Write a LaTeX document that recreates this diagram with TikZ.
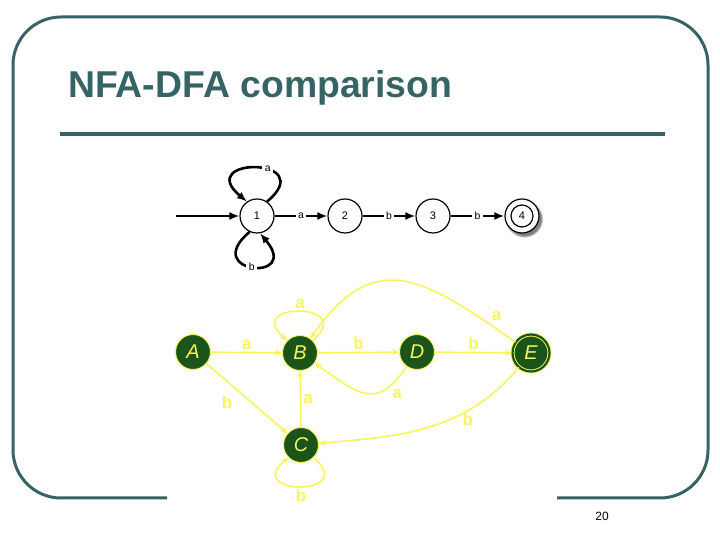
\documentclass[tikz,border=0pt]{standalone}
\usepackage{fontspec}
\setmainfont{Liberation Sans}
\usetikzlibrary{arrows.meta,shadows}
\definecolor{slate}{HTML}{366464}
\definecolor{dfagreen}{HTML}{1A541A}
\definecolor{dfayellow}{HTML}{F8F45C}

\begin{document}
\begin{tikzpicture}[
  x=1bp, y=1bp,
  frame/.style={draw=slate, line width=3bp, rounded corners=48bp},
  nfastate/.style={circle, draw=black, line width=1.2bp, fill=white, minimum size=34bp, inner sep=0pt, font=\fontsize{11}{13}\selectfont},
  nfaarr/.style={-{Latex[length=10bp,width=8bp]}, line width=2.6bp},
  nfalbl/.style={fill=white, inner sep=2.5bp, font=\fontsize{10.5}{12}\selectfont},
  dfastate/.style={circle, draw=dfayellow, line width=1bp, fill=dfagreen, text=dfayellow, minimum size=35bp, inner sep=0pt, font=\fontsize{20}{22}\selectfont\itshape},
  dfaarr/.style={-{Stealth[length=7bp,width=6bp]}, draw=dfayellow, line width=1.6bp},
  dfalbl/.style={text=dfayellow, inner sep=2bp, font=\fontsize{17}{19}\selectfont\bfseries}
]
  \useasboundingbox (0,0) rectangle (720,540);

  % slide frame and heading
  \draw[frame] (167,42) -- (13,42) -- (13,523) -- (708,523) -- (708,42) -- (557,42);
  \node[anchor=base west, inner sep=0pt, text=slate, font=\fontsize{37.5}{40}\selectfont\bfseries] (title) at (68,442) {NFA-DFA comparison};
  \draw[slate, line width=3.5bp] (60,406) -- (665,406);
  \node[font=\fontsize{12}{14}\selectfont] (pagenum) at (602,24) {20};

  % NFA (top row)
  \coordinate (start) at (176,324);
  \node[nfastate] (n1) at (257,324) {1};
  \node[nfastate] (n2) at (345,324) {2};
  \node[nfastate] (n3) at (433,324) {3};
  \node[nfastate, circular drop shadow={shadow xshift=2bp, shadow yshift=-2.5bp, shadow scale=1.12}] (n4) at (522,324) {4};
  \draw[line width=1.2bp] (n4) circle[radius=11bp];

  \draw[nfaarr] (start) -- (n1);
  \draw[nfaarr] (n1) -- node[nfalbl]{a} (n2);
  \draw[nfaarr] (n2) -- node[nfalbl]{b} (n3);
  \draw[nfaarr] (n3) -- node[nfalbl]{b} (n4);
  \draw[nfaarr] (n1.55) .. controls +(40:70) and +(140:70) .. node[nfalbl, pos=0.4]{a} (n1.125);
  \draw[nfaarr] (n1.-115) .. controls +(-140:65) and +(-50:65) .. node[nfalbl]{b} (n1.-80);

  % DFA (bottom)
  \node[dfastate] (A) at (193,188) {A};
  \node[dfastate] (B) at (300,187) {B};
  \node[dfastate] (D) at (417,188) {D};
  \node[dfastate, minimum size=37bp, line width=0.9bp, double=dfagreen, double distance=2.2bp] (E) at (531,187) {E};
  \node[dfastate] (C) at (301,95) {C};

  \draw[dfaarr] (A) -- node[dfalbl, above]{a} (B);
  \draw[dfaarr] (B) -- node[dfalbl, above]{b} (D);
  \draw[dfaarr] (D) -- node[dfalbl, above]{b} (E);
  \draw[dfaarr] (A) -- node[dfalbl, pos=0.55, left=16bp]{b} (C);
  \draw[dfaarr] (C) -- node[dfalbl, right]{a} (B);
  \draw[dfaarr] (D) to[out=235, in=-35, looseness=1.5] node[dfalbl, pos=0.2, below right]{a} (B);
  \draw[dfaarr] (E) to[out=145, in=55, looseness=1.4] node[dfalbl, pos=0.1, above right]{a} (B);
  \draw[dfaarr] (E) to[out=230, in=5] node[dfalbl, pos=0.3, below]{b} (C);
  \draw[dfaarr] (B.45) .. controls +(40:60) and +(140:60) .. node[dfalbl, above]{a} (B.135);
  \draw[dfaarr] (C.-45) .. controls +(-40:60) and +(-140:60) .. node[dfalbl, below]{b} (C.-135);

\end{tikzpicture}
\end{document}
